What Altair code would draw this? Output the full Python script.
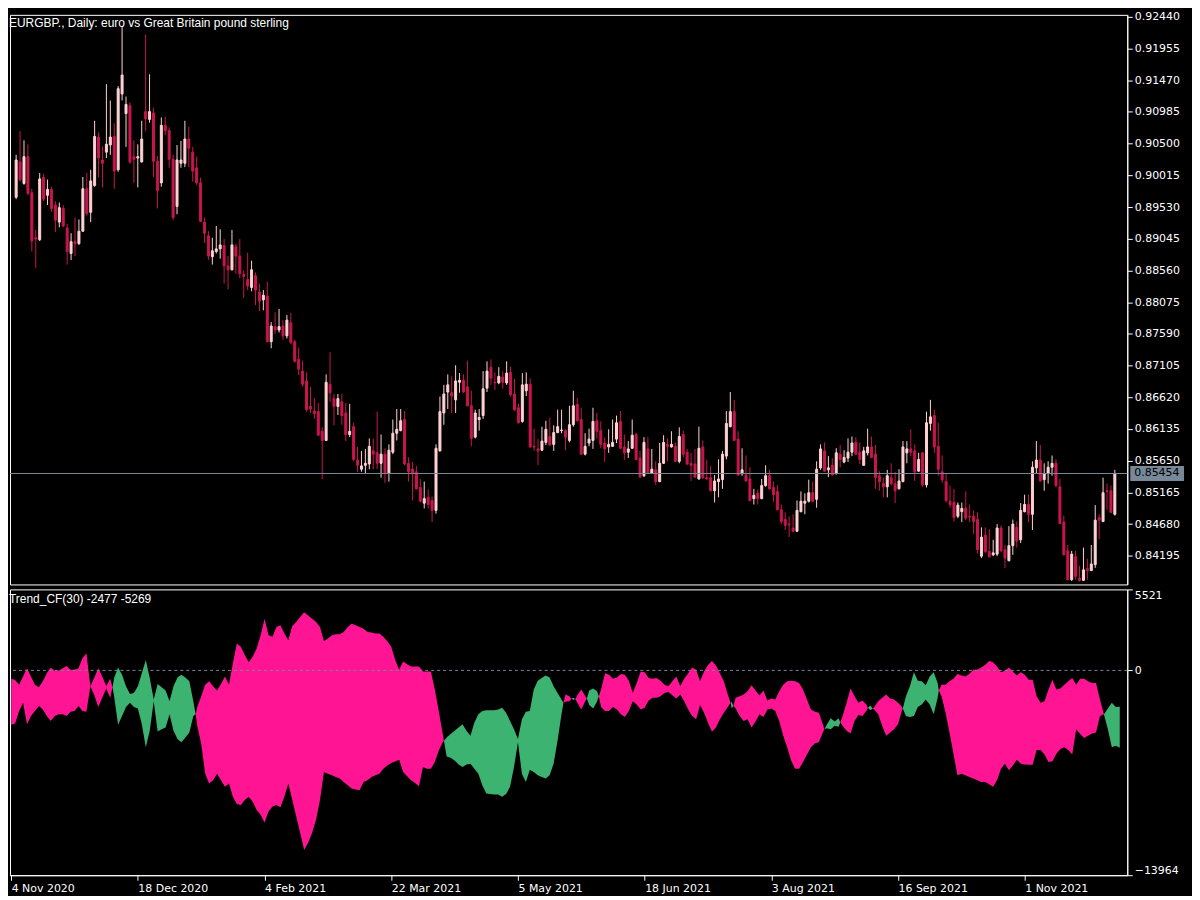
import json
import altair as alt
import pandas as pd

# ---------------- data ----------------
bar_open = [
0.8968,0.9022,0.8989,0.9030,0.8975,0.8906,0.8903,0.8998,0.8971,0.8980,
0.8956,0.8930,0.8951,0.8921,0.8882,0.8900,0.8897,0.8916,0.8981,0.8945,
0.8986,0.9060,0.9025,0.9037,0.9048,0.9061,0.9010,0.9126,0.9096,0.9108,
0.9030,0.9028,0.9022,0.9099,0.9087,0.9097,0.9023,0.8990,0.9078,0.9070,
0.9026,0.8954,0.9020,0.9020,0.9057,0.9037,0.9013,0.8990,0.8930,0.8909,
0.8877,0.8885,0.8889,0.8894,0.8863,0.8857,0.8892,0.8878,0.8850,0.8842,
0.8830,0.8848,0.8823,0.8811,0.8817,0.8747,0.8770,0.8765,0.8771,0.8756,
0.8776,0.8747,0.8720,0.8702,0.8687,0.8648,0.8641,0.8640,0.8610,0.8596,
0.8682,0.8660,0.8648,0.8655,0.8638,0.8605,0.8617,0.8566,0.8552,0.8558,
0.8560,0.8580,0.8577,0.8561,0.8575,0.8546,0.8578,0.8607,0.8611,0.8628,
0.8561,0.8552,0.8548,0.8524,0.8500,0.8509,0.8504,0.8489,0.8580,0.8638,
0.8670,0.8669,0.8658,0.8685,0.8688,0.8678,0.8649,0.8601,0.8628,0.8634,
0.8676,0.8708,0.8685,0.8684,0.8693,0.8684,0.8700,0.8667,0.8646,0.8625,
0.8672,0.8682,0.8587,0.8583,0.8581,0.8593,0.8602,0.8590,0.8608,0.8611,
0.8611,0.8596,0.8620,0.8651,0.8628,0.8575,0.8592,0.8596,0.8626,0.8611,
0.8592,0.8586,0.8587,0.8598,0.8625,0.8586,0.8578,0.8584,0.8605,0.8569,
0.8542,0.8583,0.8546,0.8551,0.8533,0.8561,0.8590,0.8586,0.8587,0.8564,
0.8605,0.8578,0.8561,0.8560,0.8537,0.8586,0.8539,0.8539,0.8519,0.8533,
0.8536,0.8572,0.8617,0.8640,0.8598,0.8545,0.8543,0.8537,0.8507,0.8515,
0.8507,0.8527,0.8542,0.8524,0.8518,0.8490,0.8475,0.8468,0.8462,0.8457,
0.8487,0.8500,0.8503,0.8516,0.8506,0.8554,0.8580,0.8551,0.8558,0.8545,
0.8575,0.8563,0.8569,0.8578,0.8593,0.8578,0.8558,0.8577,0.8586,0.8575,
0.8542,0.8530,0.8525,0.8539,0.8530,0.8522,0.8533,0.8577,0.8583,0.8580,
0.8549,0.8577,0.8528,0.8622,0.8634,0.8587,0.8548,0.8533,0.8503,0.8501,
0.8480,0.8487,0.8492,0.8480,0.8480,0.8475,0.8419,0.8451,0.8426,0.8421,
0.8422,0.8462,0.8429,0.8412,0.8435,0.8463,0.8444,0.8487,0.8498,0.8483,
0.8554,0.8566,0.8536,0.8546,0.8555,0.8561,0.8525,0.8471,0.8427,0.8383,
0.8418,0.8385,0.8382,0.8400,0.8397,0.8406,0.8478,0.8472,0.8519,0.8519,
0.8483]
bar_high = [
0.9033,0.9069,0.9055,0.9049,0.8981,0.8918,0.9005,0.9004,0.8995,0.8984,
0.8962,0.8960,0.8956,0.8927,0.8913,0.8937,0.8934,0.8999,0.9005,0.9010,
0.9085,0.9067,0.9046,0.9141,0.9116,0.9081,0.9138,0.9229,0.9122,0.9113,
0.9055,0.9049,0.9085,0.9217,0.9156,0.9105,0.9031,0.9090,0.9091,0.9075,
0.9033,0.9048,0.9054,0.9085,0.9076,0.9045,0.9030,0.8998,0.8937,0.8916,
0.8906,0.8924,0.8919,0.8904,0.8878,0.8918,0.8897,0.8904,0.8856,0.8883,
0.8871,0.8853,0.8836,0.8826,0.8839,0.8777,0.8792,0.8797,0.8780,0.8788,
0.8791,0.8750,0.8738,0.8718,0.8700,0.8678,0.8661,0.8653,0.8616,0.8697,
0.8731,0.8667,0.8667,0.8667,0.8653,0.8652,0.8623,0.8586,0.8580,0.8583,
0.8599,0.8599,0.8640,0.8605,0.8584,0.8590,0.8628,0.8644,0.8644,0.8641,
0.8570,0.8563,0.8557,0.8537,0.8533,0.8521,0.8510,0.8590,0.8663,0.8681,
0.8697,0.8694,0.8711,0.8699,0.8697,0.8718,0.8672,0.8643,0.8644,0.8702,
0.8717,0.8720,0.8700,0.8708,0.8702,0.8717,0.8709,0.8690,0.8652,0.8699,
0.8700,0.8691,0.8614,0.8598,0.8617,0.8626,0.8631,0.8619,0.8643,0.8643,
0.8613,0.8649,0.8672,0.8661,0.8646,0.8607,0.8614,0.8646,0.8638,0.8625,
0.8601,0.8613,0.8628,0.8634,0.8641,0.8605,0.8595,0.8628,0.8608,0.8580,
0.8601,0.8601,0.8583,0.8564,0.8592,0.8604,0.8599,0.8610,0.8593,0.8616,
0.8611,0.8583,0.8577,0.8583,0.8617,0.8596,0.8566,0.8557,0.8543,0.8567,
0.8580,0.8641,0.8670,0.8658,0.8610,0.8584,0.8573,0.8555,0.8522,0.8521,
0.8537,0.8558,0.8551,0.8533,0.8528,0.8498,0.8486,0.8480,0.8483,0.8504,
0.8518,0.8515,0.8536,0.8533,0.8564,0.8590,0.8593,0.8572,0.8569,0.8584,
0.8589,0.8581,0.8599,0.8602,0.8601,0.8593,0.8586,0.8614,0.8602,0.8589,
0.8549,0.8539,0.8551,0.8561,0.8548,0.8552,0.8595,0.8595,0.8613,0.8590,
0.8577,0.8578,0.8640,0.8658,0.8643,0.8623,0.8573,0.8545,0.8527,0.8522,
0.8501,0.8501,0.8518,0.8498,0.8489,0.8486,0.8463,0.8463,0.8460,0.8444,
0.8468,0.8466,0.8436,0.8465,0.8475,0.8472,0.8500,0.8513,0.8513,0.8564,
0.8595,0.8589,0.8561,0.8564,0.8573,0.8567,0.8537,0.8481,0.8436,0.8427,
0.8427,0.8404,0.8432,0.8415,0.8436,0.8497,0.8483,0.8539,0.8530,0.8527,
0.8551]
bar_low = [
0.8965,0.8992,0.8987,0.8971,0.8885,0.8860,0.8901,0.8962,0.8956,0.8946,
0.8915,0.8922,0.8922,0.8865,0.8872,0.8878,0.8895,0.8915,0.8940,0.8930,
0.8984,0.8998,0.8983,0.9028,0.9033,0.8981,0.9007,0.9116,0.9045,0.9019,
0.8990,0.8983,0.9021,0.9069,0.9082,0.8999,0.8951,0.8984,0.9063,0.9013,
0.8933,0.8942,0.9013,0.9014,0.9014,0.8992,0.8987,0.8930,0.8898,0.8872,
0.8865,0.8882,0.8874,0.8836,0.8827,0.8856,0.8851,0.8844,0.8814,0.8826,
0.8824,0.8803,0.8794,0.8795,0.8746,0.8737,0.8759,0.8761,0.8750,0.8752,
0.8743,0.8715,0.8696,0.8678,0.8640,0.8638,0.8629,0.8603,0.8537,0.8595,
0.8655,0.8619,0.8635,0.8620,0.8595,0.8601,0.8564,0.8548,0.8548,0.8546,
0.8552,0.8552,0.8552,0.8539,0.8531,0.8533,0.8575,0.8596,0.8610,0.8558,
0.8533,0.8504,0.8521,0.8501,0.8492,0.8492,0.8471,0.8484,0.8579,0.8620,
0.8644,0.8638,0.8638,0.8669,0.8669,0.8648,0.8587,0.8599,0.8611,0.8629,
0.8670,0.8681,0.8673,0.8682,0.8675,0.8681,0.8663,0.8641,0.8622,0.8623,
0.8664,0.8585,0.8580,0.8558,0.8580,0.8589,0.8588,0.8580,0.8607,0.8607,
0.8581,0.8593,0.8617,0.8625,0.8574,0.8573,0.8587,0.8583,0.8599,0.8584,
0.8563,0.8577,0.8586,0.8592,0.8583,0.8566,0.8569,0.8583,0.8566,0.8539,
0.8540,0.8545,0.8545,0.8528,0.8532,0.8560,0.8564,0.8585,0.8563,0.8561,
0.8570,0.8558,0.8534,0.8539,0.8536,0.8537,0.8536,0.8518,0.8501,0.8509,
0.8522,0.8567,0.8616,0.8595,0.8542,0.8542,0.8533,0.8503,0.8498,0.8498,
0.8506,0.8525,0.8521,0.8502,0.8489,0.8468,0.8459,0.8448,0.8456,0.8456,
0.8486,0.8483,0.8501,0.8502,0.8493,0.8551,0.8548,0.8540,0.8542,0.8544,
0.8555,0.8561,0.8563,0.8572,0.8574,0.8560,0.8557,0.8573,0.8569,0.8522,
0.8519,0.8509,0.8509,0.8527,0.8500,0.8521,0.8532,0.8561,0.8572,0.8534,
0.8548,0.8525,0.8524,0.8611,0.8577,0.8542,0.8531,0.8501,0.8493,0.8472,
0.8477,0.8471,0.8474,0.8471,0.8453,0.8423,0.8416,0.8424,0.8417,0.8419,
0.8419,0.8426,0.8401,0.8411,0.8421,0.8432,0.8439,0.8486,0.8471,0.8459,
0.8546,0.8533,0.8519,0.8530,0.8542,0.8524,0.8468,0.8420,0.8382,0.8381,
0.8383,0.8380,0.8381,0.8383,0.8396,0.8401,0.8445,0.8471,0.8490,0.8485,
0.8481]
bar_close = [
0.9025,0.8995,0.9030,0.8974,0.8901,0.8904,0.8996,0.8965,0.8980,0.8951,
0.8933,0.8952,0.8924,0.8885,0.8900,0.8897,0.8916,0.8981,0.8943,0.8993,
0.9061,0.9028,0.9020,0.9049,0.9060,0.9008,0.9134,0.9155,0.9110,0.9022,
0.9026,0.9030,0.9057,0.9088,0.9099,0.9023,0.8978,0.9078,0.9070,0.9026,
0.8937,0.9025,0.9025,0.9057,0.9043,0.9008,0.8990,0.8931,0.8913,0.8878,
0.8886,0.8889,0.8895,0.8863,0.8857,0.8895,0.8878,0.8851,0.8847,0.8832,
0.8857,0.8826,0.8809,0.8818,0.8747,0.8771,0.8765,0.8770,0.8756,0.8780,
0.8746,0.8717,0.8705,0.8682,0.8643,0.8644,0.8637,0.8604,0.8596,0.8685,
0.8669,0.8648,0.8660,0.8634,0.8605,0.8610,0.8567,0.8558,0.8557,0.8561,
0.8587,0.8575,0.8561,0.8575,0.8546,0.8581,0.8607,0.8613,0.8626,0.8560,
0.8548,0.8546,0.8522,0.8503,0.8507,0.8498,0.8489,0.8584,0.8640,0.8667,
0.8681,0.8664,0.8687,0.8688,0.8670,0.8649,0.8599,0.8638,0.8631,0.8675,
0.8702,0.8691,0.8684,0.8694,0.8685,0.8699,0.8666,0.8643,0.8623,0.8681,
0.8682,0.8586,0.8586,0.8580,0.8595,0.8613,0.8589,0.8608,0.8617,0.8612,
0.8601,0.8620,0.8649,0.8626,0.8575,0.8587,0.8598,0.8625,0.8610,0.8590,
0.8583,0.8590,0.8593,0.8623,0.8584,0.8577,0.8583,0.8604,0.8567,0.8540,
0.8593,0.8546,0.8552,0.8533,0.8561,0.8593,0.8587,0.8590,0.8564,0.8602,
0.8575,0.8560,0.8558,0.8540,0.8584,0.8539,0.8537,0.8519,0.8534,0.8537,
0.8575,0.8622,0.8640,0.8596,0.8543,0.8551,0.8534,0.8504,0.8512,0.8507,
0.8527,0.8542,0.8522,0.8513,0.8490,0.8472,0.8466,0.8467,0.8457,0.8489,
0.8503,0.8503,0.8516,0.8503,0.8552,0.8583,0.8549,0.8554,0.8543,0.8577,
0.8567,0.8570,0.8578,0.8592,0.8575,0.8567,0.8580,0.8586,0.8570,0.8539,
0.8533,0.8525,0.8542,0.8530,0.8519,0.8534,0.8586,0.8583,0.8578,0.8548,
0.8567,0.8528,0.8623,0.8632,0.8586,0.8552,0.8536,0.8504,0.8498,0.8478,
0.8497,0.8492,0.8477,0.8479,0.8472,0.8429,0.8448,0.8426,0.8418,0.8424,
0.8462,0.8427,0.8416,0.8435,0.8468,0.8442,0.8489,0.8498,0.8483,0.8555,
0.8566,0.8534,0.8545,0.8555,0.8561,0.8527,0.8469,0.8421,0.8383,0.8422,
0.8388,0.8382,0.8398,0.8397,0.8407,0.8474,0.8474,0.8516,0.8518,0.8486,
0.85454]

price_ticks = [0.84195, 0.84680, 0.85165, 0.85650, 0.86135, 0.86620, 0.87105,
               0.87590, 0.88075, 0.88560, 0.89045, 0.89530, 0.90015, 0.90500,
               0.90985, 0.91470, 0.91955, 0.92440]
last_price = 0.85454

date_ticks = [0, 32, 64, 96, 128, 160, 192, 224, 256]
date_labels = ["4 Nov 2020", "18 Dec 2020", "4 Feb 2021", "22 Mar 2021", "5 May 2021",
               "18 Jun 2021", "3 Aug 2021", "16 Sep 2021", "1 Nov 2021"]

ind_bar = [
0,1,2,3,4,5,6,7,8,9,10,11,12,13,14,15,16,17,18,19,20,21,22,23,24,25,25.6,
26,27,28,29,30,31,32,33,34,35,36,37,38,39,40,41,42,43,44,45,46,46.6,
47,48,49,50,51,52,53,54,55,56,57,58,59,60,61,62,63,64,65,66,67,68,69,70,
71,72,73,74,75,76,77,78,79,80,81,82,83,84,85,86,87,88,89,90,91,92,93,94,
95,96,97,98,99,100,101,102,103,104,105,106,107,108,109,109.3,
110,111,112,113,114,115,116,117,118,119,120,121,122,123,124,125,126,127,128,
129,130,131,132,133,134,135,136,137,138,139,139.5,
140,141,141.5,142,142.5,143,144,145,145.4,146,147,148,148.4,
149,150,151,152,153,154,155,156,157,158,159,160,161,162,163,164,165,166,167,
168,169,170,171,172,173,174,175,176,177,178,179,180,181,181.7,182,182.4,
183,184,185,186,187,188,189,190,191,192,193,194,195,196,197,198,199,200,201,
202,203,204,205,205.4,206,207,208,209,209.4,
210,211,212,213,214,215,216,216.4,217,217.6,
218,219,220,221,222,223,224,225,225.2,
226,227,228,229,230,231,232,233,234,234.3,
235,236,237,238,239,240,241,242,243,244,245,246,247,248,249,250,251,252,253,
254,255,256,257,258,259,260,261,262,263,264,265,266,267,268,269,270,271,272,
273,274,275,276,277,278,279,280]
ind_line1 = [
-3714,-3624,-2770,-2208,-3669,-3107,-2770,-2433,-2658,-3107,-3444,-3107,-2995,
-2995,-3107,-2815,-2770,-2433,-2770,-2815,-1085,-1692,-2500,-1871,-1242,-1871,-1152,
-523,196,-298,-1085,-1602,-1534,-1085,-186,713,-523,-1984,-928,-1152,-1377,-2096,
-1085,-478,-298,-478,-748,-2096,-2995,
-3781,-5017,-7039,-7714,-7489,-7039,-7489,-7938,-7714,-8612,-9107,-9174,-8837,
-8612,-8949,-9511,-9848,-10365,-9623,-9286,-9174,-9331,-8612,-7714,
-8837,-9961,-11084,-12252,-11758,-11084,-10185,-8837,-6927,-7039,-7152,-7264,
-7376,-7601,-7826,-8051,-8118,-8163,-7601,-7489,-7264,-7152,-7039,-6702,
-6478,-6320,-6208,-6096,-6927,-7219,-7489,-7669,-7893,-6590,-6702,-6702,-6253,
-5467,-4905,-4792,
-4568,-4343,-4118,-3894,-3669,-4118,-4455,-3557,-2995,-2770,-2725,-2725,-2725,
-2658,-2545,-2882,-3444,-4006,-4680,
-3332,-2815,-2770,-1310,-703,-523,-343,-478,-1085,-1534,-1984,-2208,
-2141,-2096,-1939,-1871,-1961,-2208,-2658,-2096,-1916,-1377,-1242,-1422,-1759,
-2500,-2770,-2770,-2500,-2658,-2995,-3175,-2770,-2096,-2321,-2658,-2545,-2051,
-1871,-1871,-1759,-1534,-1467,-1692,
-1916,-1647,-2096,-2658,-3107,-3332,-2366,-2882,-3557,-4186,-3894,-3332,-2882,
-2500,-2208,-2163,-2433,
-2590,-3107,-3444,-3332,-3894,-3489,-2995,-3175,-2658,-2590,-2770,-3444,-4455,
-5242,-6141,-6702,-6702,-6253,-5736,
-5242,-4972,-4905,-4231,-4006,-3714,-3264,-3489,-3264,-3557,
-3781,-4118,-4298,-3444,-3040,-3107,-2770,-2545,-2388,-2590,
-2680,-2995,-3781,-4455,-4231,-4006,-3669,-2725,-2590,
-1759,-1085,-119,-703,-748,-1017,-411,-119,-860,-1377,
-1759,-2882,-4231,-5691,-7152,-7039,-7152,-7264,-7376,-7489,-7601,-7601,-7758,
-7938,-7489,-6702,-6365,-6815,-6478,
-6096,-6365,-6410,-6433,-6433,-5422,-5422,-5736,-6253,-6186,-5691,-5354,-5242,
-5422,-5736,-4006,-4343,-4613,-4455,
-4298,-4231,-3107,-2995,-2590,-2208,-2500,-2477]
ind_line2 = [
-568,-658,-973,-411,151,-411,-973,-1152,-748,-186,196,-29,-29,
151,308,39,39,151,825,1162,-1085,-478,151,-411,-1085,-568,-1152,
-1759,-3714,-3107,-2500,-2208,-2500,-2590,-3669,-5242,-4118,-2096,-4163,-4006,-3894,-2995,
-4118,-4680,-4905,-4568,-4231,-3107,-2995,
-2500,-1759,-973,-748,-1085,-1377,-928,-411,-973,488,1836,1612,1050,
555,937,1499,2398,3522,2398,2286,2960,3072,2510,2061,
3027,3297,3634,3971,3746,3522,3297,2960,1994,2173,2398,2465,
2465,2623,2960,3184,3072,2960,2847,2623,2578,2510,2510,2286,
1994,1612,713,39,600,421,263,263,263,-74,-74,-74,-1310,
-2770,-4343,-4792,
-5871,-5961,-6141,-6410,-6590,-6410,-6365,-6702,-7039,-7826,-8388,-8433,-8455,
-8455,-8612,-8433,-7938,-6590,-4905,
-7039,-7601,-6770,-6927,-7152,-7264,-7376,-7152,-6365,-4792,-2995,-2208,
-1647,-1759,-1939,-2006,-1961,-1692,-1310,-1759,-1916,-2366,-2590,-2096,-1759,
-1310,-186,-298,-568,-478,-254,-298,-703,-1534,-860,-74,-119,-523,
-568,-523,-703,-973,-1085,-748,
-411,-1085,-568,-186,196,39,-748,-74,376,645,331,-186,-748,
-1647,-2208,-2590,-2433,
-1871,-1759,-1647,-1422,-1017,-1377,-1714,-1377,-2051,-1916,-1984,-1422,-973,
-748,-703,-748,-860,-1310,-1984,
-2658,-2815,-2882,-3669,-4006,-3939,-4006,-3781,-3849,-3557,
-3107,-2208,-1242,-1759,-2208,-2051,-2321,-2545,-2725,-2590,
-2500,-2096,-1871,-1647,-1916,-1984,-2208,-2500,-2590,
-3107,-3175,-3107,-2500,-2321,-1984,-2321,-2995,-1871,-1377,
-973,-973,-748,-568,-254,-343,-411,-254,39,39,196,376,645,
555,263,-119,-29,196,-74,
-343,-119,-298,-635,-635,-1759,-2208,-2096,-1310,-635,-1310,-1242,-973,
-748,-523,-973,-568,-568,-748,
-860,-860,-1984,-2995,-4006,-5242,-5129,-5269]
ind_ticks = [5521, 0, -13964]

# ---------------- styling ----------------
BULL = "#FFD3D3"
BEAR = "#C8164F"
PINK = "#FF1493"
GREEN = "#3CB371"
GRAYLINE = "#778899"
W = 1122
H1 = 572
H2 = 287
AXFONT = "DejaVu Sans"
TXTFONT = "Liberation Sans"

candles = pd.DataFrame({
    "bar": list(range(len(bar_open))),
    "open": bar_open, "high": bar_high, "low": bar_low, "close": bar_close,
})
candles["dir"] = ["up" if c >= o else "down" for o, c in zip(bar_open, bar_close)]

# split indicator into coloured runs
rows = []
seg = 0
cur = 0
prev = None
def col_of(s):
    return GREEN if s > 0 else PINK
for b, a1, a2 in zip(ind_bar, ind_line1, ind_line2):
    s = (a1 > a2) - (a1 < a2)
    if s != 0:
        if cur != 0 and s != cur:
            seg += 1
            if prev is not None:
                rows.append({"bar": prev[0], "top": max(prev[1], prev[2]),
                             "bot": min(prev[1], prev[2]), "seg": seg, "col": col_of(s)})
        cur = s
    rows.append({"bar": b, "top": max(a1, a2), "bot": min(a1, a2), "seg": seg,
                 "col": col_of(cur if cur != 0 else -1)})
    prev = (b, a1, a2)
ind = pd.DataFrame(rows)

xscale = alt.Scale(domain=[-0.3, 281.9], nice=False, zero=False)
y1scale = alt.Scale(domain=[0.83757, 0.9247], nice=False, zero=False)
y2scale = alt.Scale(domain=[-13964, 5521], nice=False, zero=False)
dircol = alt.Scale(domain=["up", "down"], range=[BULL, BEAR])

axis_common = dict(labelColor="white", tickColor="white", domainColor="white",
                   labelFont=AXFONT, labelFontSize=11, tickSize=5, labelPadding=2,
                   grid=False, title=None, labelOverlap=False, tickCount=60)

base = alt.Chart(candles)
wick = base.mark_rule(strokeWidth=1).encode(
    x=alt.X("bar:Q", scale=xscale, axis=None),
    y=alt.Y("low:Q", scale=y1scale,
            axis=alt.Axis(orient="right", values=price_ticks, format=".5f",
                          labelFlush=False, **axis_common)),
    y2="high:Q",
    color=alt.Color("dir:N", scale=dircol, legend=None),
)
body = base.mark_bar(size=2, strokeWidth=1).encode(
    x=alt.X("bar:Q", title=None),
    y=alt.Y("open:Q", title=None),
    y2="close:Q",
    color=alt.Color("dir:N", scale=dircol, legend=None),
    stroke=alt.Stroke("dir:N", scale=dircol, legend=None),
)
pdf = alt.Chart(pd.DataFrame({"p": [last_price], "t": [f"{last_price:.5f}"]}))
pline = pdf.mark_rule(color=GRAYLINE, strokeWidth=1).encode(y=alt.Y("p:Q", title=None))
pbox = pdf.mark_rule(color=GRAYLINE, strokeWidth=15).encode(
    x=alt.value(W + 3), x2=alt.value(W + 57), y=alt.Y("p:Q", title=None))
ptext = pdf.mark_text(align="left", baseline="middle", font=AXFONT, fontSize=11,
                      color="black").encode(x=alt.value(W + 7), y=alt.Y("p:Q", title=None),
                                            text="t:N")
title1 = alt.Chart(pd.DataFrame({"t": ["EURGBP., Daily:  euro vs Great Britain pound sterling"]})
                   ).mark_text(align="left", baseline="alphabetic", font=TXTFONT, fontSize=12,
                               color="white").encode(x=alt.value(-1), y=alt.value(12), text="t:N")

top = alt.layer(wick, body, pline, pbox, ptext, title1).properties(width=W, height=H1)

label_expr = json.dumps(date_labels) + "[round(datum.value / 32)]"
area = alt.Chart(ind).mark_area(interpolate="linear").encode(
    x=alt.X("bar:Q", scale=xscale,
            axis=alt.Axis(values=date_ticks, labelExpr=label_expr, labelAlign="left",
                          labelFlush=False, **axis_common)),
    y=alt.Y("top:Q", scale=y2scale,
            axis=alt.Axis(orient="right", values=ind_ticks, format="d",
                          labelFlush=True, **axis_common)),
    y2="bot:Q",
    color=alt.Color("col:N", scale=None),
    detail="seg:N",
)
zero = alt.Chart(pd.DataFrame({"v": [0]})).mark_rule(
    color=GRAYLINE, strokeWidth=1, strokeDash=[3, 3]).encode(y=alt.Y("v:Q", title=None))
title2 = alt.Chart(pd.DataFrame({"t": ["Trend_CF(30) -2477 -5269"]})).mark_text(
    align="left", baseline="alphabetic", font=TXTFONT, fontSize=12, color="white"
).encode(x=alt.value(-1), y=alt.value(14), text="t:N")

bottom = alt.layer(area, zero, title2).properties(width=W, height=H2)

chart = alt.vconcat(top, bottom, spacing=3).properties(
    padding=0, background="black"
).configure_view(stroke="white", strokeWidth=1).configure_axis(labelOverlap=False)

chart.save("out.html", embed_options={"renderer": "svg", "actions": False})
